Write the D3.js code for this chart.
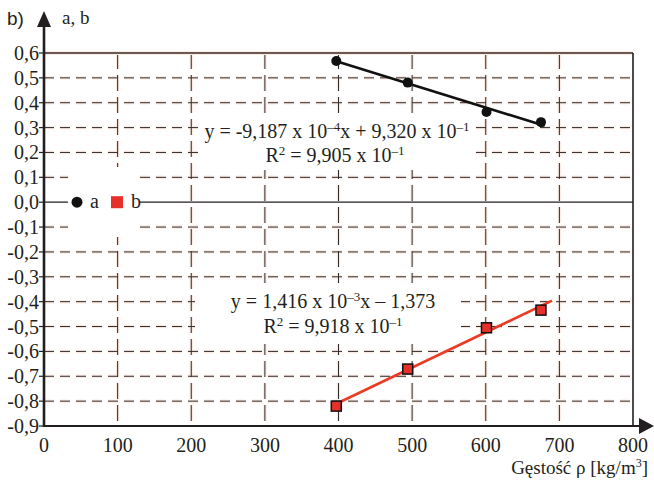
<!DOCTYPE html>
<html><head><meta charset="utf-8">
<script src="https://cdn.jsdelivr.net/npm/d3@7"></script>
<style>
html,body{margin:0;padding:0;background:#fff;}
svg{display:block;}
</style></head>
<body>
<svg id="chart" width="654" height="481" font-family="'Liberation Serif', 'Times New Roman', 'DejaVu Serif', serif"></svg>
<script>
// ---- data ----
const xTicks = [0,100,200,300,400,500,600,700,800];
const xTickLabels = ["0","100","200","300","400","500","600","700","800"];
const yTicks = [0.6,0.5,0.4,0.3,0.2,0.1,0.0,-0.1,-0.2,-0.3,-0.4,-0.5,-0.6,-0.7,-0.8,-0.9];
const yTickLabels = ["0,6","0,5","0,4","0,3","0,2","0,1","0,0","-0,1","-0,2","-0,3","-0,4","-0,5","-0,6","-0,7","-0,8","-0,9"];
const densityA = [397, 494, 601, 675];
const valuesA  = [0.568, 0.481, 0.363, 0.322];
const densityB = [397, 494, 601, 675];
const valuesB  = [-0.820, -0.671, -0.505, -0.434];
const fitA = {slope:-9.187e-4, intercept:0.9320, from:395, to:680};
const fitB = {slope:1.416e-3, intercept:-1.373, from:395, to:690};
const seriesNames = ["a","b"];

const svg = d3.select("#chart");
const x = d3.scaleLinear().domain([0,800]).range([44,633]);
const y = d3.scaleLinear().domain([-0.9,0.6]).range([426,53]);

const halo = "#fcebe3";
const gridDark = "#2e2b2b";
const ink = "#231f20";
const serif = "'Liberation Serif', 'Times New Roman', 'DejaVu Serif', serif";

const vx = xTicks.filter(d=>d>0 && d<800);
const hy = yTicks.filter(d=>d<0.6 && d>-0.9 && Math.abs(d)>1e-9);

// halos
vx.forEach(d=>{
  svg.append("line").attr("x1",x(d)).attr("x2",x(d)).attr("y1",y(0.6)).attr("y2",y(-0.9))
    .attr("stroke",halo).attr("stroke-width",3.5).attr("stroke-dasharray","16,6");
});
hy.forEach(d=>{
  svg.append("line").attr("x1",x(0)).attr("x2",x(800)).attr("y1",y(d)).attr("y2",y(d))
    .attr("stroke",halo).attr("stroke-width",3.5).attr("stroke-dasharray","10,6");
});
// dark dashes
vx.forEach(d=>{
  svg.append("line").attr("x1",x(d)).attr("x2",x(d)).attr("y1",y(0.6)).attr("y2",y(-0.9))
    .attr("stroke",gridDark).attr("stroke-width",1).attr("stroke-dasharray","16,6");
});
hy.forEach(d=>{
  svg.append("line").attr("x1",x(0)).attr("x2",x(800)).attr("y1",y(d)).attr("y2",y(d))
    .attr("stroke",gridDark).attr("stroke-width",1).attr("stroke-dasharray","10,6");
});
// zero line
svg.append("line").attr("x1",x(0)).attr("x2",x(800)).attr("y1",y(0)).attr("y2",y(0))
  .attr("stroke",ink).attr("stroke-width",1.2);

// frame top & right
svg.append("line").attr("x1",x(0)).attr("x2",x(800)).attr("y1",y(0.6)).attr("y2",y(0.6))
  .attr("stroke",halo).attr("stroke-width",4);
svg.append("line").attr("x1",x(0)).attr("x2",x(800)).attr("y1",y(0.6)).attr("y2",y(0.6))
  .attr("stroke","#3a2a26").attr("stroke-width",1.6);
svg.append("line").attr("x1",x(800)).attr("x2",x(800)).attr("y1",y(0.6)).attr("y2",y(-0.9))
  .attr("stroke",ink).attr("stroke-width",1.6);

// white boxes behind text
svg.append("rect").attr("x",203).attr("y",118).attr("width",270).attr("height",52).attr("fill","#fff");
svg.append("rect").attr("x",195).attr("y",283).attr("width",266).attr("height",61).attr("fill","#fff");
svg.append("rect").attr("x",68).attr("y",167).attr("width",72).attr("height",70).attr("fill","#fff");

// x axis with arrow
svg.append("line").attr("x1",x(0)).attr("x2",642).attr("y1",y(-0.9)).attr("y2",y(-0.9))
  .attr("stroke",ink).attr("stroke-width",2);
svg.append("path").attr("d",`M639,${y(-0.9)-8} L654,${y(-0.9)} L639,${y(-0.9)+8} Z`).attr("fill",ink);
// y axis with arrow
svg.append("line").attr("x1",x(0)).attr("x2",x(0)).attr("y1",y(-0.9)+1).attr("y2",22)
  .attr("stroke",ink).attr("stroke-width",2.6);
svg.append("path").attr("d",`M${x(0)-7},27 L${x(0)},11 L${x(0)+7},27 Z`).attr("fill",ink);

// y ticks + labels
yTicks.forEach((d,i)=>{
  svg.append("line").attr("x1",x(0)-5).attr("x2",x(0)).attr("y1",y(d)).attr("y2",y(d))
    .attr("stroke",ink).attr("stroke-width",1.2);
  svg.append("text").attr("x",39).attr("y",y(d)).attr("dy","0.35em")
    .attr("text-anchor","end").attr("font-size",20).attr("font-family",serif).attr("fill",ink)
    .text(yTickLabels[i]);
});
// x labels
xTicks.forEach((d,i)=>{
  svg.append("text").attr("x",x(d)).attr("y",452).attr("text-anchor","middle")
    .attr("font-size",20).attr("font-family",serif).attr("fill",ink).text(xTickLabels[i]);
});
const xl = svg.append("text").attr("x",648).attr("y",474).attr("text-anchor","end")
  .attr("font-size",19).attr("font-family",serif).attr("fill",ink);
xl.append("tspan").text("Gęstość ρ [kg/m");
xl.append("tspan").attr("dy",-7).attr("font-size",12).text("3");
xl.append("tspan").attr("dy",7).text("]");
svg.append("text").attr("x",7).attr("y",25).attr("font-size",19).attr("fill",ink)
  .attr("font-family","'Liberation Sans', Arial, sans-serif").text("b)");
svg.append("text").attr("x",62).attr("y",24).attr("font-size",19).attr("font-family",serif)
  .attr("fill",ink).text("a, b");

// regression lines
svg.append("line").attr("x1",x(fitA.from)).attr("y1",y(fitA.slope*fitA.from+fitA.intercept))
  .attr("x2",x(fitA.to)).attr("y2",y(fitA.slope*fitA.to+fitA.intercept))
  .attr("stroke","#111").attr("stroke-width",2.6);
svg.append("line").attr("x1",x(fitB.from)).attr("y1",y(fitB.slope*fitB.from+fitB.intercept))
  .attr("x2",x(fitB.to)).attr("y2",y(fitB.slope*fitB.to+fitB.intercept))
  .attr("stroke","#ec3b24").attr("stroke-width",2.6);

// points
svg.append("g").selectAll("circle").data(densityA).join("circle")
  .attr("cx",d=>x(d)).attr("cy",(d,i)=>y(valuesA[i])).attr("r",5).attr("fill","#111");
svg.append("g").selectAll("rect").data(densityB).join("rect")
  .attr("x",d=>x(d)-5).attr("y",(d,i)=>y(valuesB[i])-5).attr("width",10).attr("height",10)
  .attr("fill","#e8302a").attr("stroke","#111").attr("stroke-width",1.5);

// equations
function eq(cx, by, parts){
  const t = svg.append("text").attr("x",cx).attr("y",by).attr("text-anchor","middle")
    .attr("font-size",20).attr("font-family",serif).attr("fill",ink);
  let after = false;
  parts.forEach(p=>{
    if (p.sup) { t.append("tspan").attr("dy",after?0:-7).attr("font-size",13).text(p.sup); after = true; }
    else { t.append("tspan").attr("dy",after?7:0).text(p.t); after = false; }
  });
}
eq(337,138,[{t:"y = -9,187 x 10"},{sup:"–4"},{t:"x + 9,320 x 10"},{sup:"–1"}]);
eq(335,162,[{t:"R"},{sup:"2"},{t:" = 9,905 x 10"},{sup:"–1"}]);
eq(333,308,[{t:"y = 1,416 x 10"},{sup:"–3"},{t:"x – 1,373"}]);
eq(333,333,[{t:"R"},{sup:"2"},{t:" = 9,918 x 10"},{sup:"–1"}]);

// legend
svg.append("circle").attr("cx",77).attr("cy",y(0)).attr("r",5.5).attr("fill","#111");
svg.append("text").attr("x",90).attr("y",y(0)).attr("dy","0.3em").attr("font-size",20)
  .attr("font-family",serif).attr("fill",ink).text(seriesNames[0]);
svg.append("rect").attr("x",111).attr("y",y(0)-6).attr("width",12).attr("height",12).attr("fill","#e8302a");
svg.append("text").attr("x",131).attr("y",y(0)).attr("dy","0.3em").attr("font-size",20)
  .attr("font-family",serif).attr("fill",ink).text(seriesNames[1]);
</script>
</body></html>
